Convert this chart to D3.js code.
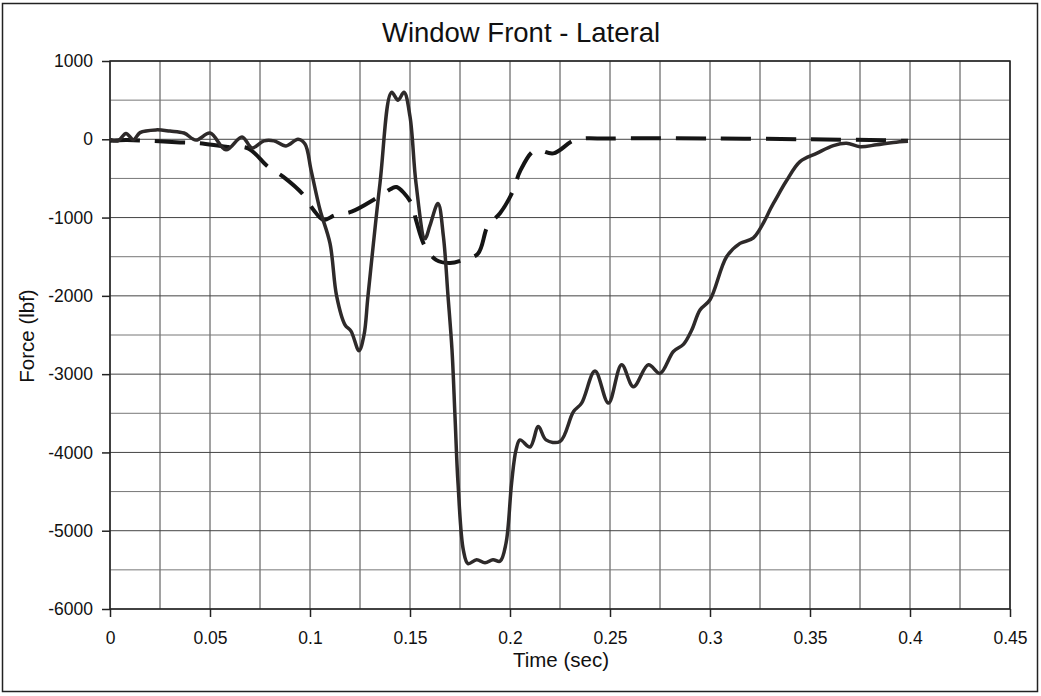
<!DOCTYPE html>
<html><head><meta charset="utf-8">
<script src="https://cdn.jsdelivr.net/npm/d3@7"></script>
<style>body{margin:0;background:#fff}svg{display:block;font-family:"Liberation Sans",Arial,sans-serif}</style>
</head><body>
<svg id="c" width="1041" height="696"></svg>
<script>
const title = "Window Front - Lateral";
const xLabel = "Time (sec)";
const yLabel = "Force (lbf)";
const xTicks = [0,0.05,0.1,0.15,0.2,0.25,0.3,0.35,0.4,0.45];
const yTicks = [1000,0,-1000,-2000,-3000,-4000,-5000,-6000];
const solidT = [0,0.004,0.008,0.0117,0.015,0.023,0.030,0.037,0.043,0.050,0.058,0.066,0.071,0.077,0.082,0.088,0.094,0.0975,0.1005,0.105,0.110,0.1133,0.1175,0.1205,0.1245,0.127,0.129,0.135,0.1408,0.144,0.147,0.150,0.153,0.1575,0.160,0.164,0.1667,0.169,0.171,0.1725,0.174,0.1767,0.179,0.1833,0.1875,0.1915,0.195,0.198,0.2008,0.203,0.205,0.21,0.2142,0.218,0.225,0.2317,0.2358,0.2425,0.2492,0.2558,0.2617,0.2692,0.275,0.2817,0.2867,0.2908,0.295,0.3,0.3083,0.315,0.3217,0.3317,0.338,0.345,0.3533,0.3617,0.3683,0.375,0.3833,0.3917,0.399];
const solidF = [0,-20,75,-5,85,120,105,80,-10,80,-135,30,-110,-20,-20,-85,0,-60,-390,-900,-1330,-2000,-2370,-2450,-2700,-2500,-2000,-560,600,500,600,290,-560,-1270,-1100,-820,-1240,-2000,-2690,-3540,-4390,-5250,-5420,-5370,-5410,-5370,-5390,-5160,-4390,-3970,-3840,-3930,-3670,-3840,-3860,-3480,-3370,-2960,-3370,-2880,-3160,-2880,-2990,-2710,-2620,-2440,-2180,-2050,-1500,-1330,-1260,-820,-540,-285,-180,-80,-50,-95,-70,-40,-25];
const dashT = [0,0.008,0.02,0.035,0.045,0.058,0.069,0.079,0.0867,0.0967,0.1017,0.1067,0.1125,0.1208,0.1333,0.1408,0.1433,0.1508,0.153,0.1575,0.163,0.17,0.1767,0.184,0.189,0.195,0.2017,0.205,0.2125,0.2217,0.2325,0.25,0.3,0.35,0.38,0.399];
const dashF = [-20,-10,-20,-40,-50,-95,-115,-350,-480,-710,-900,-1030,-970,-925,-750,-630,-610,-820,-1030,-1370,-1540,-1580,-1540,-1460,-1100,-945,-650,-410,-140,-180,-10,10,10,0,-10,-20];

const svg = d3.select("#c");
const L=110,R=1010,T=61,B=609;
const x = d3.scaleLinear().domain([0,0.45]).range([L,R]);
const y = d3.scaleLinear().domain([-6000,1000]).range([B,T]);

svg.append("rect").attr("x",2.5).attr("y",3.5).attr("width",1035).attr("height",688).attr("fill","none").attr("stroke","#222").attr("stroke-width",1.5);

svg.append("text").attr("x",521).attr("y",42).attr("text-anchor","middle").attr("font-size",27.5).attr("fill","#111").text(title);

// grid
const g = svg.append("g");
d3.range(0,0.4501,0.025).forEach(v=>{
  g.append("line").attr("x1",x(v)).attr("x2",x(v)).attr("y1",T).attr("y2",B).attr("stroke","#444").attr("stroke-width",1);
});
d3.range(-6000,1001,500).forEach(v=>{
  g.append("line").attr("x1",L).attr("x2",R).attr("y1",y(v)).attr("y2",y(v)).attr("stroke",(v%1000===0)?"#444":"#777").attr("stroke-width",1);
});
svg.append("rect").attr("x",L).attr("y",T).attr("width",R-L).attr("height",B-T).attr("fill","none").attr("stroke","#222").attr("stroke-width",1.5);

const xa = svg.append("g").attr("transform",`translate(0,${B})`).call(d3.axisBottom(x).tickValues(xTicks).tickFormat(d=>String(d)).tickSize(8).tickPadding(15));
const ya = svg.append("g").attr("transform",`translate(${L},0)`).call(d3.axisLeft(y).tickValues(yTicks).tickFormat(d=>String(d)).tickSize(8).tickPadding(9));
[xa,ya].forEach(a=>{a.select(".domain").remove();a.selectAll("line").attr("stroke","#222").attr("stroke-width",1.5);a.selectAll("text").attr("font-size",17.5).attr("fill","#111").attr("font-family","'Liberation Sans',Arial,sans-serif");});

svg.append("text").attr("x",561).attr("y",667).attr("text-anchor","middle").attr("font-size",20.5).attr("fill","#111").text(xLabel);
svg.append("text").attr("transform","translate(34,336) rotate(-90)").attr("text-anchor","middle").attr("font-size",20.5).attr("fill","#111").text(yLabel);

const line = d3.line().x(d=>x(d[0])).y(d=>y(d[1])).curve(d3.curveCatmullRom.alpha(0.5));
svg.append("path").datum(dashT.map((t,i)=>[t,dashF[i]])).attr("d",line).attr("fill","none").attr("stroke","#151515").attr("stroke-width",4).attr("stroke-dasharray","30,15");
svg.append("path").datum(solidT.map((t,i)=>[t,solidF[i]])).attr("d",line).attr("fill","none").attr("stroke","#2e2a2a").attr("stroke-width",3.5).attr("stroke-linejoin","round");
</script>
</body></html>
